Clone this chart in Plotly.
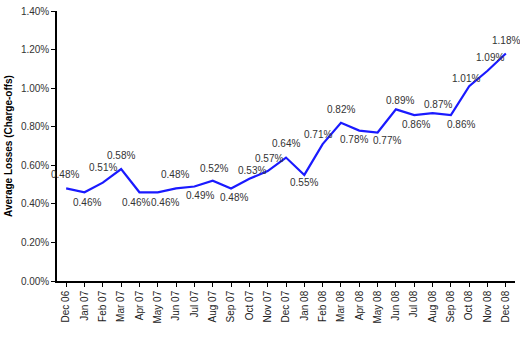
import plotly.graph_objects as go

months = ["Dec 06", "Jan 07", "Feb 07", "Mar 07", "Apr 07", "May 07", "Jun 07", "Jul 07",
          "Aug 07", "Sep 07", "Oct 07", "Nov 07", "Dec 07", "Jan 08", "Feb 08", "Mar 08",
          "Apr 08", "May 08", "Jun 08", "Jul 08", "Aug 08", "Sep 08", "Oct 08", "Nov 08", "Dec 08"]
losses = [0.48, 0.46, 0.51, 0.58, 0.46, 0.46, 0.48, 0.49, 0.52, 0.48, 0.53, 0.57, 0.64, 0.55,
          0.71, 0.82, 0.78, 0.77, 0.89, 0.86, 0.87, 0.86, 1.01, 1.09, 1.18]
y_ticks = [0, 0.2, 0.4, 0.6, 0.8, 1.0, 1.2, 1.4]

# label offsets in pixels (dx right, dy down) relative to each point
label_offsets = [(-1, -14), (3, 10), (0, -15), (0, -14), (-3, 10), (7, 10), (-1, -14),
                 (6, 9), (1, -12), (3, 9), (3, -8), (1, -13), (0, -14), (0, 8), (-5, -10),
                 (0, -13), (-5, 9), (9, 8), (4, -9), (2, 9), (5, -9), (10, 9), (-3, -8),
                 (2, -13), (0, -13)]

fig = go.Figure()
fig.add_trace(go.Scatter(
    x=list(range(len(months))), y=losses, mode="lines",
    line=dict(color="#1a1aff", width=2.2),
    showlegend=False, hoverinfo="skip",
))
for i, v in enumerate(losses):
    dx, dy = label_offsets[i]
    fig.add_annotation(
        x=i, y=v, text=f"{v:.2f}%", showarrow=False,
        xshift=dx, yshift=-dy, xanchor="center", yanchor="middle",
        font=dict(family="Liberation Sans, Arial", size=10, color="#333333"),
    )
fig.update_layout(
    width=520, height=337, margin=dict(l=57, r=5, t=8, b=56),
    paper_bgcolor="white", plot_bgcolor="white",
    font=dict(family="Liberation Sans, Arial", size=10, color="#333333"),
)
fig.update_xaxes(
    range=[-0.5, len(months) - 0.5], tickmode="array",
    tickvals=list(range(len(months))), ticktext=months, tickangle=-90,
    showline=True, linecolor="black", linewidth=1.5, ticks="outside", ticklen=4,
    tickcolor="black", showgrid=False, zeroline=False, tickson="boundaries",
    tickfont=dict(size=10, color="#222222"),
)
fig.update_yaxes(
    range=[0, 1.4], tickmode="array", tickvals=y_ticks,
    ticktext=[f"{v:.2f}%" for v in y_ticks],
    showline=True, linecolor="black", linewidth=1.5, ticks="outside", ticklen=4,
    tickcolor="black", showgrid=False, zeroline=False,
    title=dict(text="<b>Average Losses (Charge-offs)</b>", standoff=6,
               font=dict(size=10, color="black")),
    tickfont=dict(size=10, color="#333333"),
)
fig.write_html("out.html")
